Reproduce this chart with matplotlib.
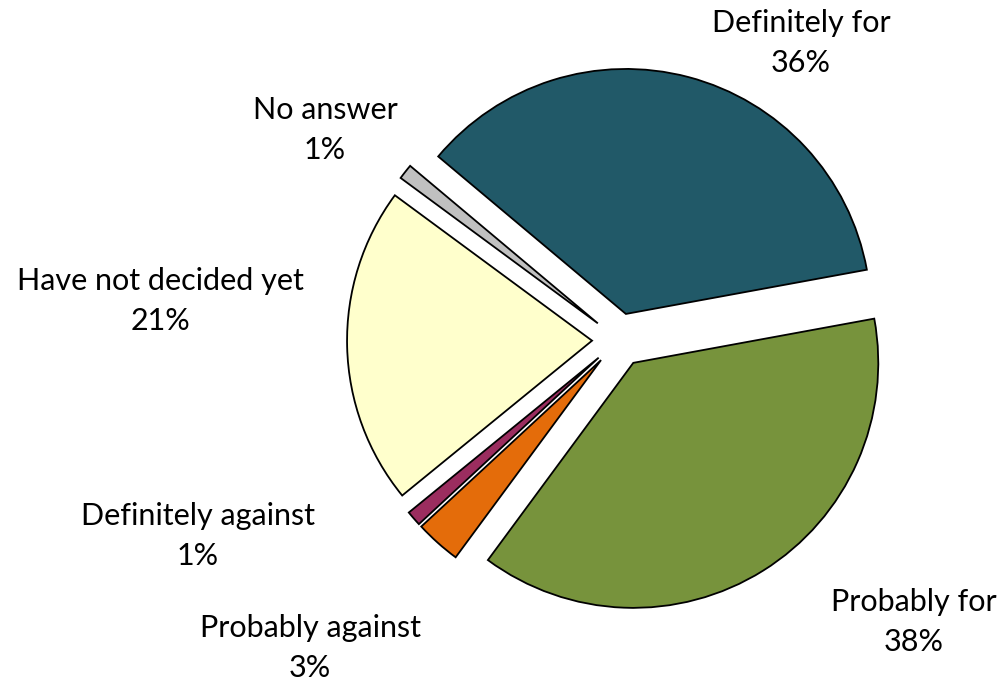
import matplotlib.pyplot as plt
import numpy as np

# data (clockwise from upper left)
labels = ['Definitely for', 'Probably for', 'Probably against',
          'Definitely against', 'Have not decided yet', 'No answer']
shares = [36, 38, 3, 1, 21, 1]
colors = ['#215968', '#77933C', '#E46C0A', '#9B2D5F', '#FFFFCC', '#C0C0C0']

# label anchor positions in pixels (from top-left), center of the two-line block
label_px = {'Definitely for': (801, 43), 'Probably for': (914, 622),
            'Probably against': (310, 648), 'Definitely against': (198, 536),
            'Have not decided yet': (160, 301), 'No answer': (325, 130)}

W, H = 1003, 680
R = 245.0           # pie radius in pixels
cx, cy = 619, 340   # pie center in pixels

plt.rcParams['font.family'] = ['Lato', 'DejaVu Sans']

fig = plt.figure(figsize=(W / 100, H / 100), dpi=100)
ax = fig.add_axes([0, 0, 1, 1])

ax.pie(shares, colors=colors, startangle=140, counterclock=False,
       explode=[0.11] * len(shares), radius=1.0,
       wedgeprops=dict(edgecolor='black', linewidth=1.3))

ax.set_xlim(-cx / R, (W - cx) / R)
ax.set_ylim((cy - H) / R, cy / R)
ax.set_aspect('equal')
ax.axis('off')

for lab, val in zip(labels, shares):
    px, py = label_px[lab]
    ax.text((px - cx) / R, (cy - py) / R, f'{lab}\n{val}%', ha='center', va='center',
            fontsize=22, linespacing=1.5, color='black')

fig.savefig('out.png', dpi=100)
